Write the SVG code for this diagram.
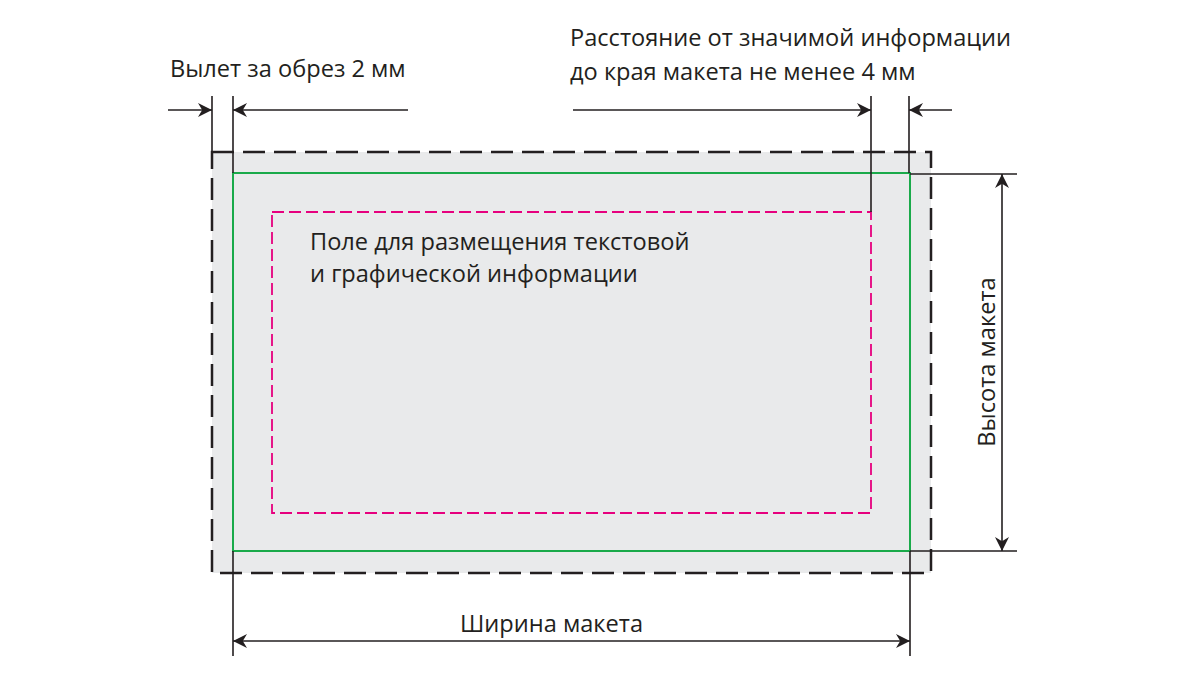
<svg xmlns="http://www.w3.org/2000/svg" width="1200" height="675" viewBox="0 0 1200 675">
<style>
.t{font-family:"Myriad Pro","Open Sans","Liberation Sans",sans-serif;font-size:23.6px;fill:#231f20}
.l{stroke:#231f20;stroke-width:1.6;fill:none}
</style>
<defs>
<marker id="a" viewBox="0 0 10 10" refX="10" refY="5" markerWidth="14" markerHeight="14" markerUnits="userSpaceOnUse" orient="auto-start-reverse"><path d="M0,0 L10,5 L0,10 L3,5 Z" fill="#231f20"/></marker>
</defs>
<rect width="1200" height="675" fill="#fff"/>
<g id="bleed"><rect x="212" y="152" width="719" height="421" fill="#e9eaeb" stroke="#231f20" stroke-width="2.5" stroke-dasharray="22,9"/></g>
<g id="trim"><rect x="233" y="173" width="677" height="378" fill="none" stroke="#1aaa4a" stroke-width="2"/></g>
<g id="safe"><rect x="272" y="212" width="599" height="301" fill="none" stroke="#e6007e" stroke-width="1.8" stroke-dasharray="12,5"/>
<text class="t" x="310" y="250">Поле для размещения текстовой</text>
<text class="t" x="310" y="282">и графической информации</text></g>
<g id="connectors">
<path class="l" d="M212,96V152M233,96V173M871,96V212M909,96V173M910,174H1017M910,551H1017M233,551V656M910,551V656"/>
<line class="l" x1="168" y1="110" x2="212" y2="110" marker-end="url(#a)"/>
<line class="l" x1="408" y1="110" x2="233" y2="110" marker-end="url(#a)"/>
<line class="l" x1="573" y1="110" x2="871" y2="110" marker-end="url(#a)"/>
<line class="l" x1="952" y1="110" x2="909" y2="110" marker-end="url(#a)"/>
<line class="l" x1="1002" y1="174" x2="1002" y2="551" marker-start="url(#a)" marker-end="url(#a)"/>
<line class="l" x1="233" y1="641" x2="910" y2="641" marker-start="url(#a)" marker-end="url(#a)"/>
</g>
<g id="labels">
<text class="t" x="170" y="77">Вылет за обрез 2 мм</text>
<text class="t" x="570" y="46">Расстояние от значимой информации</text>
<text class="t" x="570" y="80">до края макета не менее 4 мм</text>
<text class="t" x="460" y="632">Ширина макета</text>
<text class="t" transform="translate(995,362) rotate(-90)" text-anchor="middle">Высота макета</text>
</g>
</svg>
